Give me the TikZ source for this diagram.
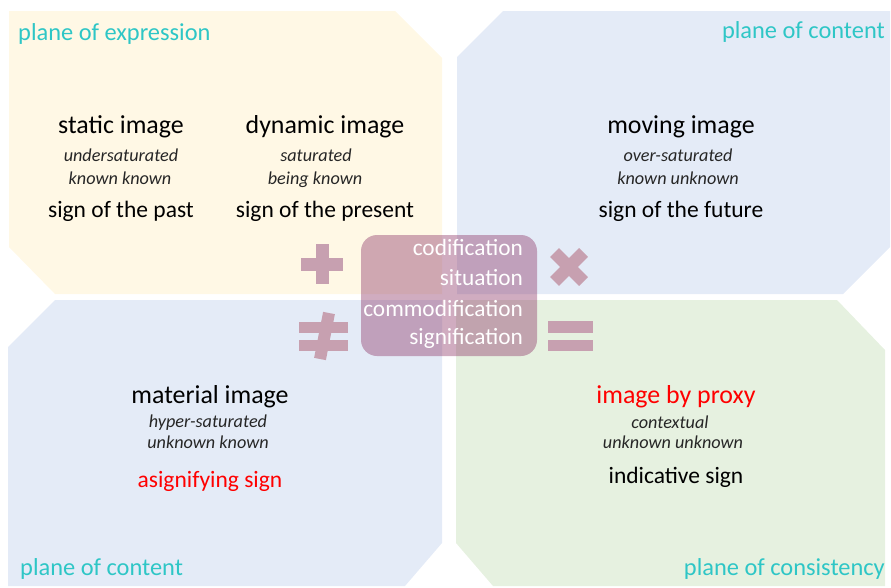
\documentclass[tikz,border=0pt]{standalone}
\usepackage{fontspec}
\setmainfont{Carlito}
\definecolor{paneyellow}{RGB}{255,248,229}
\definecolor{paneblue}{RGB}{228,235,247}
\definecolor{panegreen}{RGB}{230,241,224}
\definecolor{planeteal}{RGB}{46,198,198}
\definecolor{boxpurple}{RGB}{150,70,115}
\definecolor{opmauve}{RGB}{199,160,176}
\definecolor{signred}{RGB}{255,0,0}
\tikzset{
  panel/.style={draw=none},
  heading/.style={anchor=base, inner sep=0pt, font=\fontsize{25.9}{30}\selectfont, text=black},
  title/.style={anchor=base, inner sep=0pt, font=\fontsize{23.5}{28}\selectfont, text=black},
  sub/.style={anchor=base, inner sep=0pt, font=\fontsize{18.2}{22}\selectfont\itshape, text=black!85},
  plane/.style={anchor=base, inner sep=0pt, font=\fontsize{24.4}{29}\selectfont, text=planeteal},
  hub/.style={anchor=base east, inner sep=0pt, font=\fontsize{23.3}{28}\selectfont, text=white},
  opbar/.style={fill=opmauve, draw=none},
  opstroke/.style={draw=opmauve, line width=12.5pt, line cap=butt},
}
\begin{document}
\begin{tikzpicture}[x=1pt, y=-1pt]
\useasboundingbox (0,0) rectangle (891,587);

% four chamfered quadrants
\fill[paneyellow, panel] (9,11) -- (395,11) -- (442,58) -- (442,294) -- (55,294) -- (9,247) -- cycle;
\fill[paneblue, panel] (503,11) -- (890,11) -- (890,247) -- (843,294) -- (457,294) -- (457,57) -- cycle;
\fill[paneblue, panel] (55,300) -- (442,300) -- (442,543) -- (405,586) -- (8,586) -- (8,347) -- cycle;
\fill[panegreen, panel] (456,300) -- (837,300) -- (885,350) -- (885,586) -- (493,586) -- (456,543) -- cycle;

% plane labels
\node[plane, anchor=base west] (pexpr) at (18,40) {plane of expression};
\node[plane, anchor=base east] (pcont) at (885,38) {plane of content};
\node[plane, anchor=base west] (pcont2) at (20,575) {plane of content};
\node[plane, anchor=base east] (pcons) at (885,575) {plane of consistency};

% static image
\node[heading] (st) at (121,133) {static image};
\node[sub] (st1) at (121,161) {undersaturated};
\node[sub] (st2) at (120,184) {known known};
\node[title] (st3) at (121,217) {sign of the past};

% dynamic image
\node[heading] (dy) at (325,133) {dynamic image};
\node[sub] (dy1) at (316,161) {saturated};
\node[sub] (dy2) at (315,184) {being known};
\node[title] (dy3) at (325,217) {sign of the present};

% moving image
\node[heading] (mv) at (681,133) {moving image};
\node[sub] (mv1) at (678,161) {over-saturated};
\node[sub] (mv2) at (678,184) {known unknown};
\node[title] (mv3) at (681,217) {sign of the future};

% material image
\node[heading] (ma) at (210,403) {material image};
\node[sub] (ma1) at (208,427) {hyper-saturated};
\node[sub] (ma2) at (208,448) {unknown known};
\node[title, text=signred] (ma3) at (210,487) {asignifying sign};

% image by proxy
\node[heading, text=signred] (px) at (676,403) {image by proxy};
\node[sub] (px1) at (670,428) {contextual};
\node[sub] (px2) at (673,448) {unknown unknown};
\node[title] (px3) at (676,483) {indicative sign};

% central box
\fill[boxpurple, fill opacity=0.45, rounded corners=16pt] (361,235) rectangle (537,356);
\node[hub] (h1) at (523,255) {codification};
\node[hub] (h2) at (523,285) {situation};
\node[hub] (h3) at (523,316) {commodification};
\node[hub] (h4) at (523,344) {signification};

% operators
\fill[opbar] (301,257.5) rectangle (343,270.5);
\fill[opbar] (315.5,244) rectangle (328.5,284);
\draw[opstroke] (554.5,252.5) -- (583.5,281.5);
\draw[opstroke] (583.5,252.5) -- (554.5,281.5);
\fill[opbar] (299,322) rectangle (348,333);
\fill[opbar] (299,339.5) rectangle (348,351);
\draw[opstroke, line width=12pt] (329,313) -- (320,359);
\fill[opbar] (548,321) rectangle (593,333);
\fill[opbar] (548,339.5) rectangle (593,351);
\end{tikzpicture}
\end{document}
